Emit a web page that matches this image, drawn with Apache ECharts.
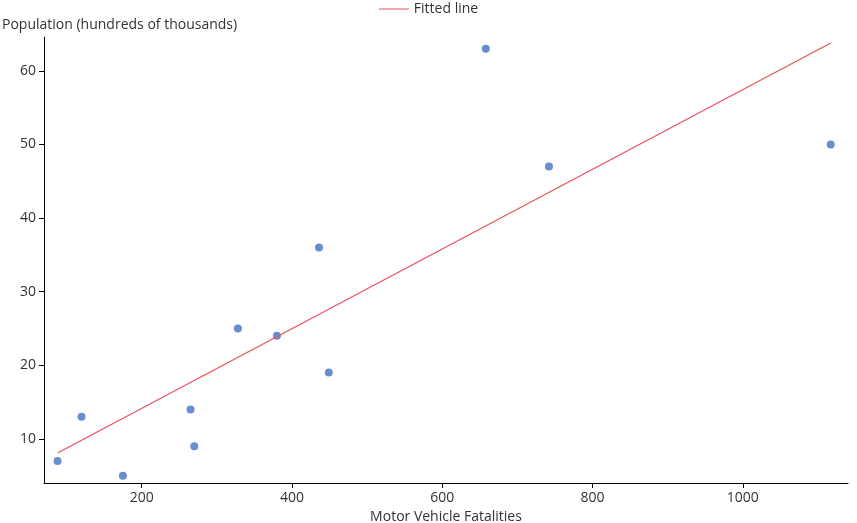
<!DOCTYPE html>
<html>
<head>
<meta charset="utf-8">
<script src="https://cdn.jsdelivr.net/npm/echarts@6/dist/echarts.min.js"></script>
<style>html,body{margin:0;padding:0;background:#fff}#main{width:857px;height:523px}</style>
</head>
<body>
<div id="main"></div>
<script>
// fatalities vs population
var fatalities = [88, 120, 175, 265, 270, 328, 380, 436, 449, 658, 742, 1117];
var population = [7, 13, 5, 14, 9, 25, 24, 36, 19, 63, 47, 50];
var yTicks = [10, 20, 30, 40, 50, 60];
var xTicks = [200, 400, 600, 800, 1000];

// least squares fit
var n = fatalities.length, mx = 0, my = 0;
for (var i = 0; i < n; i++) { mx += fatalities[i]; my += population[i]; }
mx /= n; my /= n;
var sxy = 0, sxx = 0;
for (var i = 0; i < n; i++) {
  sxy += (fatalities[i] - mx) * (population[i] - my);
  sxx += (fatalities[i] - mx) * (fatalities[i] - mx);
}
var slope = sxy / sxx, icpt = my - slope * mx;
var xs = fatalities.slice().sort(function (a, b) { return a - b; });
var fitLine = [[xs[0], icpt + slope * xs[0]], [xs[n - 1], icpt + slope * xs[n - 1]]];

var font = 'Open Sans, Noto Sans, sans-serif';
var chart = echarts.init(document.getElementById('main'));
chart.setOption({
  animation: false,
  textStyle: { fontFamily: font },
  legend: {
    top: -3, left: 'center',
    data: [{ name: 'Fitted line', icon: 'path://M0,0H30V1H0Z' }],
    itemWidth: 30, itemHeight: 2,
    textStyle: { fontSize: 14, color: '#333', fontFamily: font }
  },
  grid: { left: 44, right: 9, top: 37, bottom: 40, outerBoundsMode: 'none' },
  xAxis: {
    type: 'value', min: 70, max: 1140,
    name: 'Motor Vehicle Fatalities', nameLocation: 'middle', nameGap: 26,
    nameTextStyle: { fontSize: 14, color: '#333' },
    splitLine: { show: false },
    axisLine: { lineStyle: { color: '#000' } },
    axisTick: { customValues: xTicks, length: 5, lineStyle: { color: '#000' } },
    axisLabel: { customValues: xTicks, fontSize: 14, color: '#333', formatter: function (v) { return String(v); } }
  },
  yAxis: {
    type: 'value', min: 4, max: 64.6,
    name: 'Population (hundreds of thousands)', nameLocation: 'end', nameGap: 5,
    nameTextStyle: { fontSize: 14, color: '#333', align: 'left', padding: [0, 0, 0, -42] },
    splitLine: { show: false },
    axisLine: { show: true, lineStyle: { color: '#000' } },
    axisTick: { show: true, customValues: yTicks, length: 5, lineStyle: { color: '#000' } },
    axisLabel: { customValues: yTicks, fontSize: 14, color: '#333' }
  },
  series: [
    {
      name: 'Data', type: 'scatter', symbolSize: 8,
      itemStyle: { color: '#4472c4' },
      data: fatalities.map(function (x, i) { return [x, population[i]]; })
    },
    {
      name: 'Fitted line', type: 'line', showSymbol: false,
      lineStyle: { color: '#e8505b', width: 1.2 }, itemStyle: { color: '#e8505b' },
      data: fitLine
    }
  ]
});
</script>
</body>
</html>
